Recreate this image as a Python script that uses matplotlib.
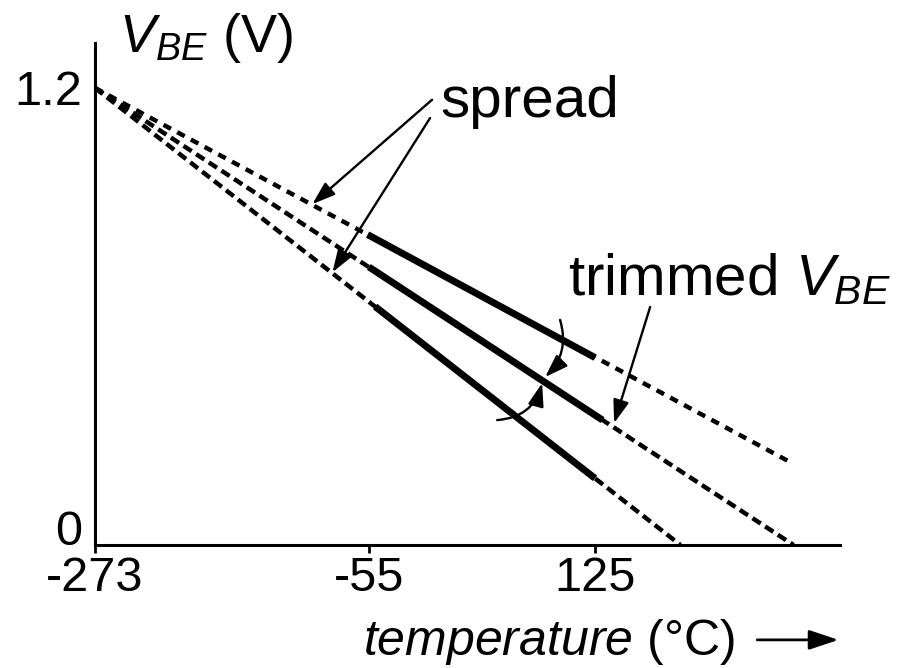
import numpy as np
import matplotlib.pyplot as plt

plt.rcParams['font.family'] = ['Liberation Sans', 'DejaVu Sans']
plt.rcParams['mathtext.fontset'] = 'custom'
plt.rcParams['mathtext.rm'] = 'Liberation Sans'
plt.rcParams['mathtext.it'] = 'Liberation Sans:italic'

# V_BE(T) lines, all extrapolating to the bandgap voltage at 0 K
t_zero = -273
v_zero = 1.2
t_end = [279, 283, 193]       # where each dashed line stops
v_end = [0.22, 0.0, 0.0]
# solid part = the -55..125 operating range
t_lo = [-56, -55, -50]
v_lo = [0.815, 0.730, 0.626]
t_hi = [125, 131, 125]
v_hi = [0.492, 0.328, 0.175]
dash_styles = [(1.9, 1.6), (2.2, 1.2), (2.2, 1.2)]

x_ticks = [-273, -55, 125]
x_tick_labels = ['-273', '-55', '125']
y_ticks = [0, 1.2]
y_tick_labels = ['0', '1.2']

fig = plt.figure(figsize=(9.02, 6.68), dpi=100)
ax = fig.add_axes([95 / 902, 123 / 668, 745 / 902, 502 / 668])
ax.set_xlim(-273, 320)
ax.set_ylim(0, 1.318)

for i in range(3):
    ax.plot([t_zero, t_end[i]], [v_zero, v_end[i]], color='black', lw=3.2,
            linestyle=(0, dash_styles[i]))
    ax.plot([t_lo[i], t_hi[i]], [v_lo[i], v_hi[i]], color='black', lw=5,
            solid_capstyle='butt')

for side in ['top', 'right']:
    ax.spines[side].set_visible(False)
for side in ['left', 'bottom']:
    ax.spines[side].set_linewidth(2.2)

ax.set_xticks(x_ticks, x_tick_labels)
ax.set_yticks(y_ticks, y_tick_labels)
ax.tick_params(axis='x', direction='out', length=6, width=2, pad=2, labelsize=35)
ax.tick_params(axis='y', length=0, pad=9, labelsize=35)
ax.get_yticklabels()[0].set_verticalalignment('baseline')

# axis titles
ax.text(0.032, 0.982, r'$V_{BE}$ (V)', transform=ax.transAxes, fontsize=39,
        ha='left', va='baseline')
ax.text(0.36, -0.219, r'$\mathit{temperature}$ (°C)', transform=ax.transAxes,
        fontsize=36, ha='left', va='baseline', clip_on=False)
ax.annotate('', xy=(0.998, -0.189), xytext=(0.889, -0.189),
            xycoords='axes fraction', textcoords='axes fraction',
            arrowprops=dict(arrowstyle='-|>,head_length=0.9,head_width=0.3',
                            color='black', lw=2, mutation_scale=20,
                            shrinkA=0, shrinkB=0))

arrow_kw = dict(arrowstyle='-|>,head_length=0.7,head_width=0.24',
                color='black', lw=1.7, mutation_scale=20, shrinkA=0, shrinkB=0)

# spread labels
ax.text(1.7, 1.124, 'spread', fontsize=42, ha='left', va='baseline')
ax.annotate('', xy=(-100, 0.895), xytext=(-4.7, 1.169),
            arrowprops=dict(arrow_kw))
ax.annotate('', xy=(-84, 0.716), xytext=(-6.3, 1.121),
            arrowprops=dict(arrow_kw))

# trimmed V_BE
ax.text(103.6, 0.657, r'trimmed $V_{BE}$', fontsize=42, ha='left', va='baseline')
ax.annotate('', xy=(140.2, 0.320), xytext=(168.9, 0.625),
            arrowprops=dict(arrow_kw))

# curved arrows closing in on the trimmed line
ax.annotate('', xy=(85.3, 0.441), xytext=(97.2, 0.591),
            arrowprops=dict(arrow_kw, connectionstyle='arc3,rad=-0.3'))
ax.annotate('', xy=(82.9, 0.425), xytext=(47.1, 0.328),
            arrowprops=dict(arrow_kw, connectionstyle='arc3,rad=0.35'))

fig.savefig('out.png', dpi=100)
